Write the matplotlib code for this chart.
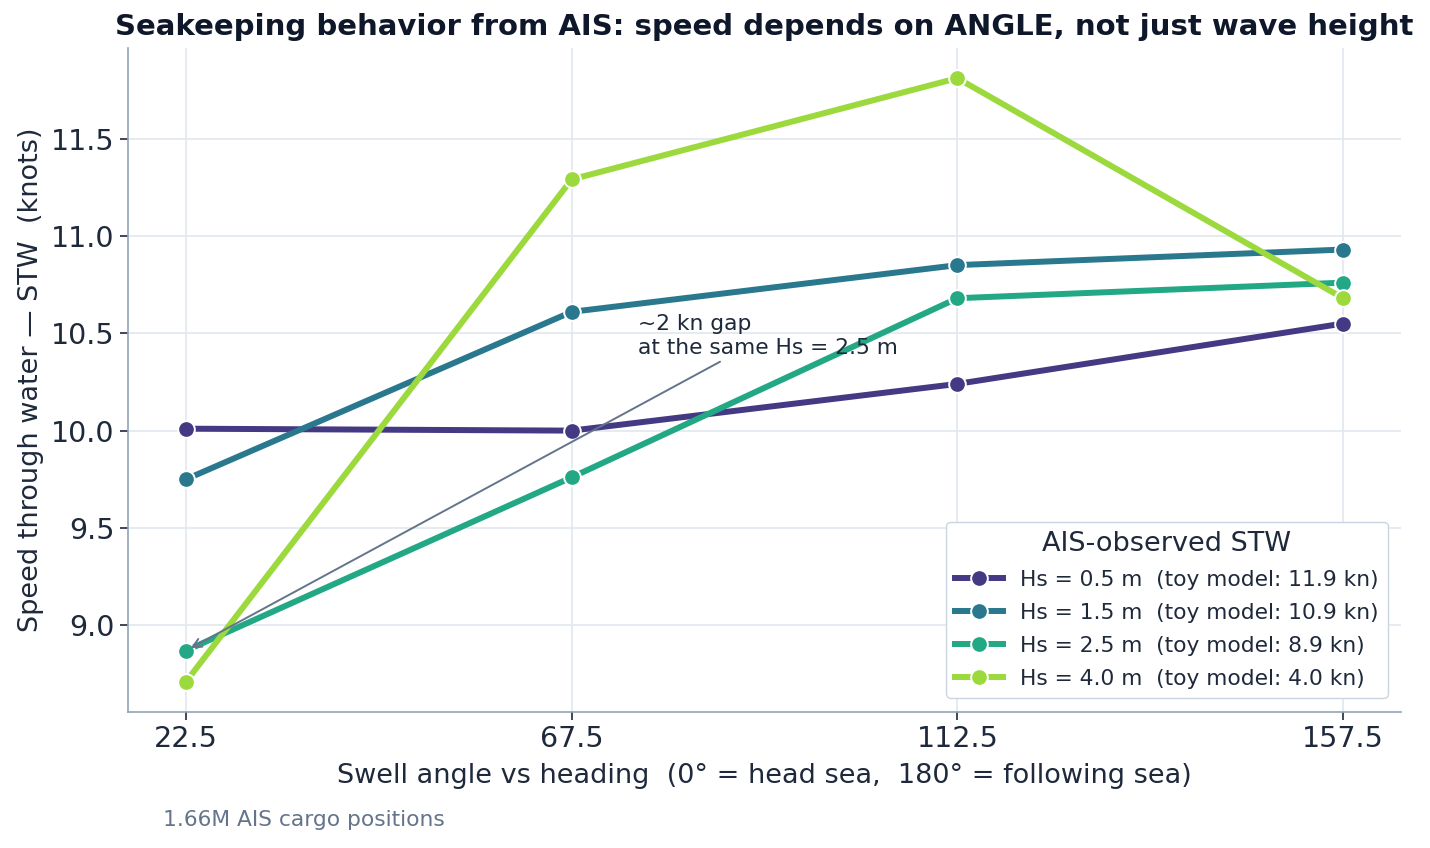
import matplotlib
matplotlib.use("Agg")
import matplotlib.pyplot as plt

angles = [22.5, 67.5, 112.5, 157.5]
hs_labels = ["Hs = 0.5 m  (toy model: 11.9 kn)",
             "Hs = 1.5 m  (toy model: 10.9 kn)",
             "Hs = 2.5 m  (toy model: 8.9 kn)",
             "Hs = 4.0 m  (toy model: 4.0 kn)"]
stw_hs05 = [10.01, 10.00, 10.24, 10.55]
stw_hs15 = [9.75, 10.61, 10.85, 10.93]
stw_hs25 = [8.87, 9.76, 10.68, 10.76]
stw_hs40 = [8.71, 11.29, 11.81, 10.68]
colors = ["#443a83", "#2a788e", "#22a884", "#9bd93c"]

plt.rcParams['font.family'] = ['DejaVu Sans']
fig = plt.figure(figsize=(14.3, 8.48), dpi=100)
ax = fig.add_axes([128/1430, 1 - 712/848, (1401-128)/1430, (712-48)/848])

text_c = "#1e293b"
for vals, lab, c in zip([stw_hs05, stw_hs15, stw_hs25, stw_hs40], hs_labels, colors):
    ax.plot(angles, vals, color=c, lw=4.3, marker="o", markersize=12,
            markeredgecolor="white", markeredgewidth=1.4, label=lab, zorder=3)

ax.set_xticks(angles)
ax.set_xticklabels([str(a) for a in angles])
ax.set_yticks([9.0, 9.5, 10.0, 10.5, 11.0, 11.5])
ax.grid(True, color="#e2e8f0", lw=1.2, zorder=0)
ax.set_axisbelow(True)
for s in ["top", "right"]:
    ax.spines[s].set_visible(False)
for s in ["left", "bottom"]:
    ax.spines[s].set_color("#94a3b8")
    ax.spines[s].set_linewidth(1.2)
ax.tick_params(axis="both", labelsize=20.5, colors=text_c, length=6, width=1.2)
ax.tick_params(axis="both", labelcolor=text_c)

ax.set_xlabel("Swell angle vs heading  (0° = head sea,  180° = following sea)",
              fontsize=19.5, color=text_c, labelpad=7)
ax.set_ylabel("Speed through water — STW  (knots)", fontsize=19.5, color=text_c, labelpad=5)
fig.text(764/1430, 1 - 27/848,
         "Seakeeping behavior from AIS: speed depends on ANGLE, not just wave height",
         ha="center", va="center", fontsize=21, fontweight="bold", color="#0f172a")

ax.annotate("~2 kn gap\nat the same Hs = 2.5 m", xy=(22.5, stw_hs25[0]),
            xytext=(75.2, 10.375), fontsize=15.7, color=text_c, ha="left", va="bottom",
            arrowprops=dict(arrowstyle="->", color="#64748b", lw=1.4, shrinkB=4))

leg = ax.legend(title="AIS-observed STW", loc="lower right", fontsize=15.7,
                title_fontsize=19.5, frameon=True, framealpha=1, edgecolor="#cbd5e1",
                borderpad=0.4, handlelength=2.2, labelspacing=0.6,
                bbox_to_anchor=(0.998, 0.005))
for t in leg.get_texts():
    t.set_color(text_c)
leg.get_title().set_color(text_c)

fig.text(163/1430, 1 - 820/848, "1.66M AIS cargo positions", fontsize=15.7,
         color="#64748b", ha="left", va="center")

fig.savefig("out.png", dpi=100)
